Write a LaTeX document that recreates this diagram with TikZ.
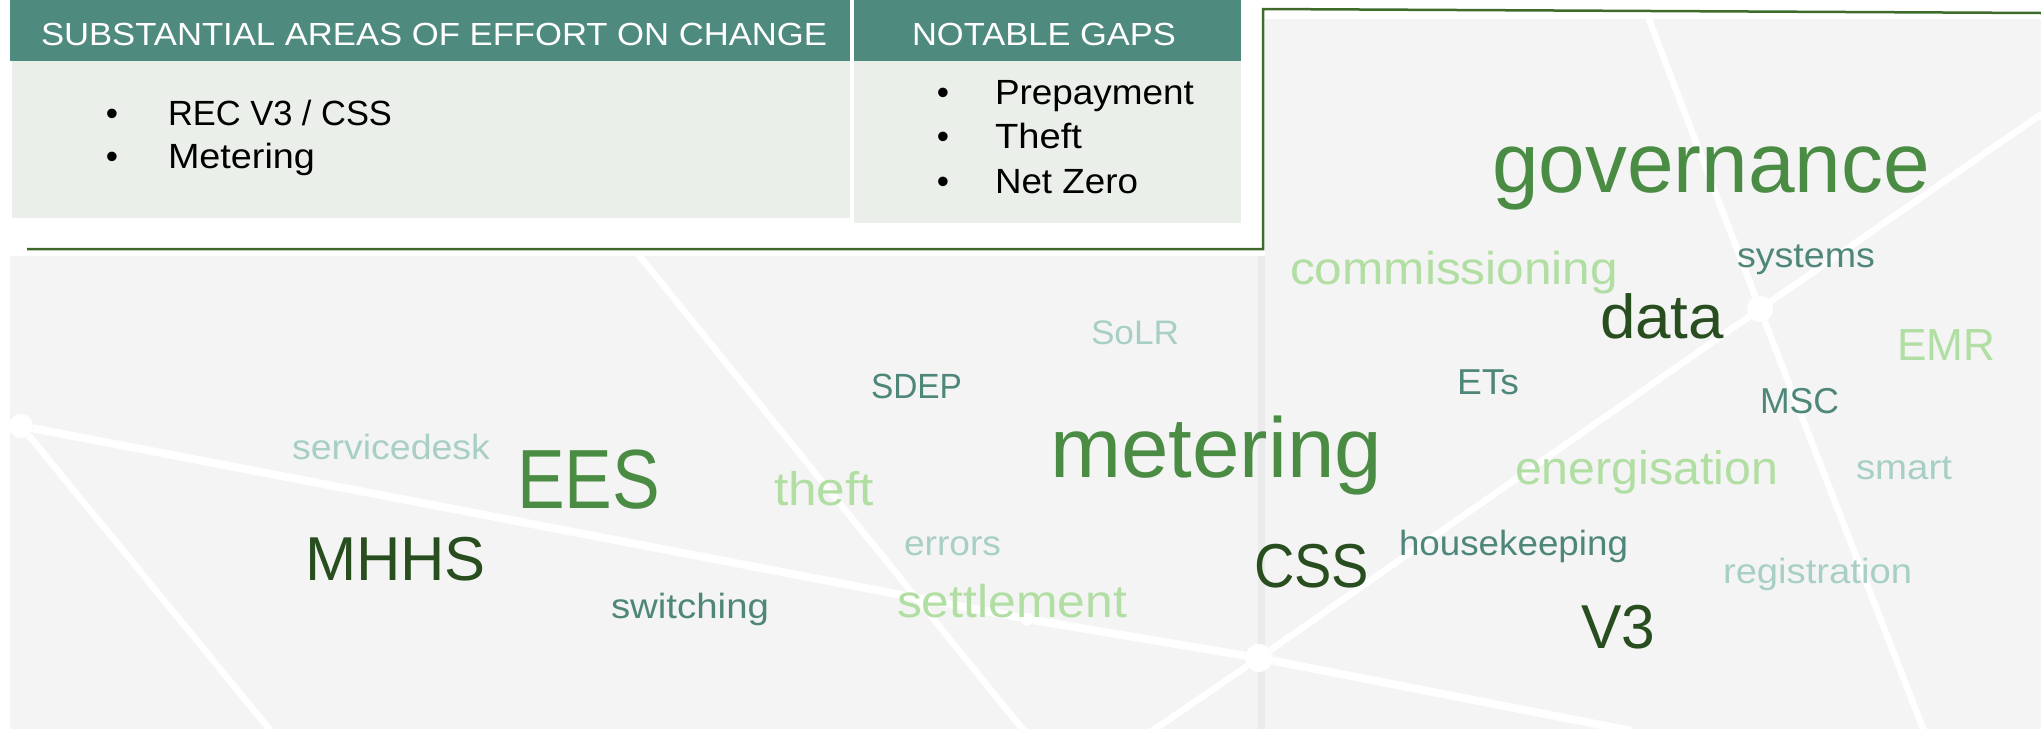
\documentclass[tikz,border=0pt]{standalone}
\usepackage{fontspec}
\setmainfont{Liberation Sans}
\usepackage{graphicx}
\definecolor{hdr}{HTML}{4F8A7E}
\definecolor{cellbg}{HTML}{EAEFEA}
\definecolor{bgc}{HTML}{F4F4F4}
\definecolor{stripec}{HTML}{EBEBEB}
\definecolor{framec}{HTML}{3E6B2A}
\definecolor{gmid}{HTML}{4A8C43}
\definecolor{gdark}{HTML}{284D1F}
\definecolor{glight}{HTML}{B1DEA2}
\definecolor{tealc}{HTML}{4E877A}
\definecolor{tlight}{HTML}{A8CFC6}
\newcommand{\fitword}[3]{\resizebox{#2pt}{\height}{\fontsize{#1pt}{#1pt}\selectfont #3}}
\tikzset{
  word/.style={anchor=base west, inner sep=0pt, outer sep=0pt},
  bul/.style={anchor=base, inner sep=0pt, text=black},
  hub/.style={circle, fill=white, inner sep=0pt, draw=none},
  wire/.style={white, line width=6.5pt},
  mainwire/.style={white, line width=8pt},
}
\begin{document}
\begin{tikzpicture}[x=1pt,y=-1pt]
\useasboundingbox (0,0) rectangle (2041,729);
% backgrounds
\fill[bgc] (10,256) rectangle (1258,729);
\fill[stripec] (1258,256) rectangle (1265,729);
\fill[bgc] (1265,19) rectangle (2041,729);
% network
\begin{scope}
\clip (10,256) -- (1265,256) -- (1265,19) -- (2041,19) -- (2041,729) -- (10,729) -- cycle;
\node[hub, minimum size=24pt] (A) at (21,426) {};
\node[hub, minimum size=28pt] (B) at (1259,658) {};
\node[hub, minimum size=26pt] (C) at (1760,309) {};
\node[hub, minimum size=13pt] (D) at (1027,619) {};
\coordinate (Adown) at (271,731);
\coordinate (Ltop) at (638,254);
\coordinate (Lbot) at (1024,731);
\coordinate (Bend) at (1632,731);
\coordinate (Bdl) at (1152,731);
\coordinate (Cup) at (1648,17);
\coordinate (Cur) at (2043,113);
\coordinate (Cdown) at (1924,731);
\draw[mainwire] (A) -- (D) -- (B) -- (Bend);
\draw[wire] (A) -- (Adown);
\draw[wire] (Ltop) -- (Lbot);
\draw[wire] (Bdl) -- (B) -- (C) -- (Cur);
\draw[wire] (Cup) -- (C) -- (Cdown);
\end{scope}
% frame line
\draw[framec, line width=2.5pt] (27,249) -- (1263,249) -- (1263,9) -- (2041,13);
% table
\fill[hdr] (10,0) rectangle (850,61);
\fill[cellbg] (12,61) rectangle (850,218);
\fill[hdr] (854,0) rectangle (1241,61);
\fill[cellbg] (854,61) rectangle (1241,223);
\node[word, text=white] (h1) at (41,45) {\fitword{32}{786}{SUBSTANTIAL AREAS OF EFFORT ON CHANGE}};
\node[word, text=white] (h2) at (912,45) {\fitword{32}{264}{NOTABLE GAPS}};
\node[bul] (b1) at (112,125) {\fontsize{35pt}{35pt}\selectfont •};
\node[word] (t1) at (168,125) {\fitword{35}{224}{REC V3 / CSS}};
\node[bul] (b2) at (112,168) {\fontsize{35pt}{35pt}\selectfont •};
\node[word] (t2) at (168,168) {\fitword{35}{147}{Metering}};
\node[bul] (b3) at (943,104) {\fontsize{35pt}{35pt}\selectfont •};
\node[word] (t3) at (995,104) {\fitword{35}{199}{Prepayment}};
\node[bul] (b4) at (943,148) {\fontsize{35pt}{35pt}\selectfont •};
\node[word] (t4) at (995,148) {\fitword{35}{87}{Theft}};
\node[bul] (b5) at (943,193) {\fontsize{35pt}{35pt}\selectfont •};
\node[word] (t5) at (995,193) {\fitword{35}{143}{Net Zero}};
% word cloud
\node[word, text=gmid] (governance) at (1492,192) {\fitword{85}{438}{governance}};
\node[word, text=gmid] (metering) at (1050,477) {\fitword{85}{332}{metering}};
\node[word, text=gmid] (EES) at (517,508) {\fitword{84}{143}{EES}};
\node[word, text=gdark] (data) at (1600,338) {\fitword{62}{124}{data}};
\node[word, text=gdark] (CSS) at (1254,587) {\fitword{62}{115}{CSS}};
\node[word, text=gdark] (V3) at (1581,648) {\fitword{62}{74}{V3}};
\node[word, text=gdark] (MHHS) at (305,580) {\fitword{62}{181}{MHHS}};
\node[word, text=glight] (commissioning) at (1290,284) {\fitword{46}{328}{commissioning}};
\node[word, text=glight] (EMR) at (1897,360) {\fitword{45}{98}{EMR}};
\node[word, text=glight] (energisation) at (1515,484) {\fitword{47}{263}{energisation}};
\node[word, text=glight] (theft) at (774,505) {\fitword{47}{100}{theft}};
\node[word, text=glight] (settlement) at (897,617) {\fitword{46}{230}{settlement}};
\node[word, text=tealc] (systems) at (1737,267) {\fitword{35}{138}{systems}};
\node[word, text=tealc] (ETs) at (1457,394) {\fitword{36}{62}{ETs}};
\node[word, text=tealc] (MSC) at (1760,413) {\fitword{36}{79}{MSC}};
\node[word, text=tealc] (SDEP) at (871,398) {\fitword{35}{91}{SDEP}};
\node[word, text=tealc] (housekeeping) at (1399,555) {\fitword{35}{229}{housekeeping}};
\node[word, text=tealc] (switching) at (611,618) {\fitword{35}{158}{switching}};
\node[word, text=tlight] (SoLR) at (1091,344) {\fitword{34}{88}{SoLR}};
\node[word, text=tlight] (servicedesk) at (292,459) {\fitword{35}{198}{servicedesk}};
\node[word, text=tlight] (errors) at (904,555) {\fitword{35}{97}{errors}};
\node[word, text=tlight] (smart) at (1856,479) {\fitword{35}{96}{smart}};
\node[word, text=tlight] (registration) at (1723,583) {\fitword{35}{189}{registration}};
\end{tikzpicture}
\end{document}
